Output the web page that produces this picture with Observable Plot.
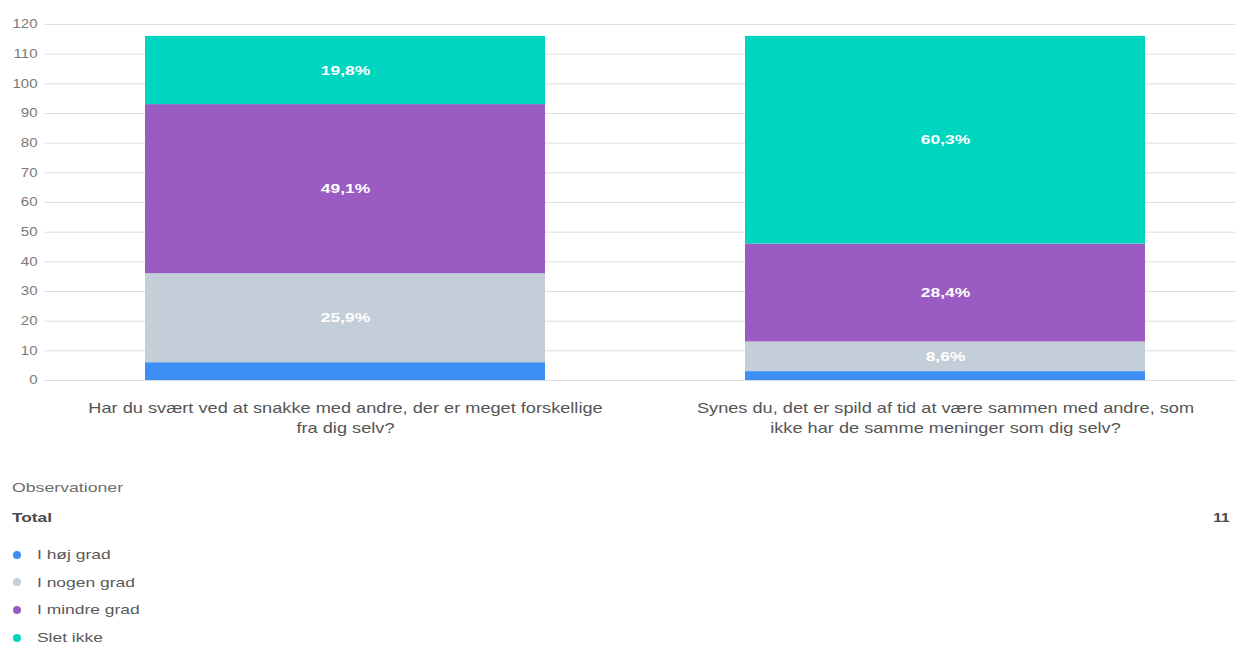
<!DOCTYPE html>
<html>
<head>
<meta charset="utf-8">
<script src="https://cdn.jsdelivr.net/npm/d3@7"></script>
<script src="https://cdn.jsdelivr.net/npm/@observablehq/plot@0.6"></script>
<style>
  html, body { margin: 0; padding: 0; background: #fff; overflow: hidden; }
  body { width: 1235px; height: 645px; position: relative; font-family: "Liberation Sans", Arial, sans-serif; }
  #chart svg { display: block; }
  .wide { display: inline-block; transform-origin: left center; white-space: nowrap; }
  .obs { position: absolute; left: 12px; top: 480px; font-size: 13px; line-height: 16px; color: #6e6e6e; }
  .obs .wide { transform: scaleX(1.36); }
  .total { position: absolute; left: 12px; top: 510px; font-size: 13px; line-height: 16px; font-weight: bold; color: #4a4a4a; }
  .total .wide { transform: scaleX(1.33); }
  .totalval { position: absolute; right: 5px; top: 510px; font-size: 13px; line-height: 16px; font-weight: bold; color: #4a4a4a; }
  .totalval .wide { transform: scaleX(1.2); transform-origin: right center; }
  .legend { position: absolute; left: 0; top: 541px; }
  .legend .item { position: relative; height: 27.6px; display: flex; align-items: center; font-size: 13px; color: #5a5a5a; }
  .legend .dot { position: absolute; left: 13px; width: 8px; height: 8px; border-radius: 50%; }
  .legend .wide { margin-left: 37px; transform: scaleX(1.34); }
</style>
</head>
<body>
<div id="chart"></div>
<div class="obs"><span class="wide">Observationer</span></div>
<div class="total"><span class="wide">Total</span></div>
<div class="totalval"><span class="wide">11</span></div>
<div class="legend" id="legend"></div>
<script>
const categories = [
  "Har du svært ved at snakke med andre, der er meget forskellige fra dig selv?",
  "Synes du, det er spild af tid at være sammen med andre, som ikke har de samme meninger som dig selv?"
];
const tickLines = [
  ["Har du svært ved at snakke med andre, der er meget forskellige", "fra dig selv?"],
  ["Synes du, det er spild af tid at være sammen med andre, som", "ikke har de samme meninger som dig selv?"]
];
const series = ["I høj grad", "I nogen grad", "I mindre grad", "Slet ikke"];
const q1Values = [6, 30, 57, 23];
const q2Values = [3, 10, 33, 70];
const colors = ["#3d8ef5", "#c4ced8", "#9a5bc2", "#00d6bf"];
const yTicks = [0, 10, 20, 30, 40, 50, 60, 70, 80, 90, 100, 110, 120];

const valuesByQuestion = [q1Values, q2Values];
const data = [];
categories.forEach((q, qi) => {
  const vals = valuesByQuestion[qi];
  const total = d3.sum(vals);
  series.forEach((s, si) => {
    data.push({question: q, series: s, value: vals[si], share: vals[si] / total});
  });
});

const fmt = d => (d.share * 100).toFixed(1).replace(".", ",") + "%";

const chart = Plot.plot({
  width: 1235,
  height: 440,
  marginLeft: 45,
  marginRight: 0,
  marginTop: 24,
  marginBottom: 60,
  style: {fontFamily: "'Liberation Sans', Arial, sans-serif", background: "#fff"},
  x: {domain: categories, paddingInner: 1/3, paddingOuter: 0.158, align: 0.526, label: null},
  y: {domain: [0, 120], label: null},
  color: {domain: series, range: colors},
  marks: [
    Plot.gridY(yTicks, {stroke: "#dedede", strokeOpacity: 1, strokeWidth: 1}),
    Plot.axisY(yTicks, {tickSize: 0, tickPadding: 8, fill: "#7a7a7a", fontSize: 12, label: null}),
    Plot.barY(data, Plot.stackY({x: "question", y: "value", fill: "series", order: series})),
    Plot.text(data, Plot.stackY({
      x: "question", y: "value", z: "series", order: series,
      text: d => d.share >= 0.07 ? fmt(d) : "",
      fill: "#ffffff", fontSize: 13, fontWeight: 600
    })),
    Plot.axisX({
      tickSize: 0, tickPadding: 19, fontSize: 14, fill: "#555", lineHeight: 1.4,
      label: null,
      tickFormat: d => tickLines[categories.indexOf(d)].join("\n")
    })
  ]
});
document.getElementById("chart").appendChild(chart);

// widen the glyphs horizontally, as in the reference picture
function stretch(selector, s) {
  chart.querySelectorAll(selector).forEach(t => {
    const x = parseFloat(t.getAttribute("x")) || 0;
    const tr = t.getAttribute("transform") || "";
    t.setAttribute("transform", `${tr} translate(${x},0) scale(${s},1) translate(${-x},0)`);
  });
}
stretch('g[aria-label="y-axis tick label"] text', 1.25);
stretch('g[aria-label="x-axis tick label"] text', 1.3);
stretch('g[aria-label="text"] text', 1.34);

const legend = document.getElementById("legend");
series.forEach((s, i) => {
  const item = document.createElement("div");
  item.className = "item";
  const dot = document.createElement("span");
  dot.className = "dot";
  dot.style.background = colors[i];
  const label = document.createElement("span");
  label.className = "wide";
  label.textContent = s;
  item.appendChild(dot);
  item.appendChild(label);
  legend.appendChild(item);
});
</script>
</body>
</html>
